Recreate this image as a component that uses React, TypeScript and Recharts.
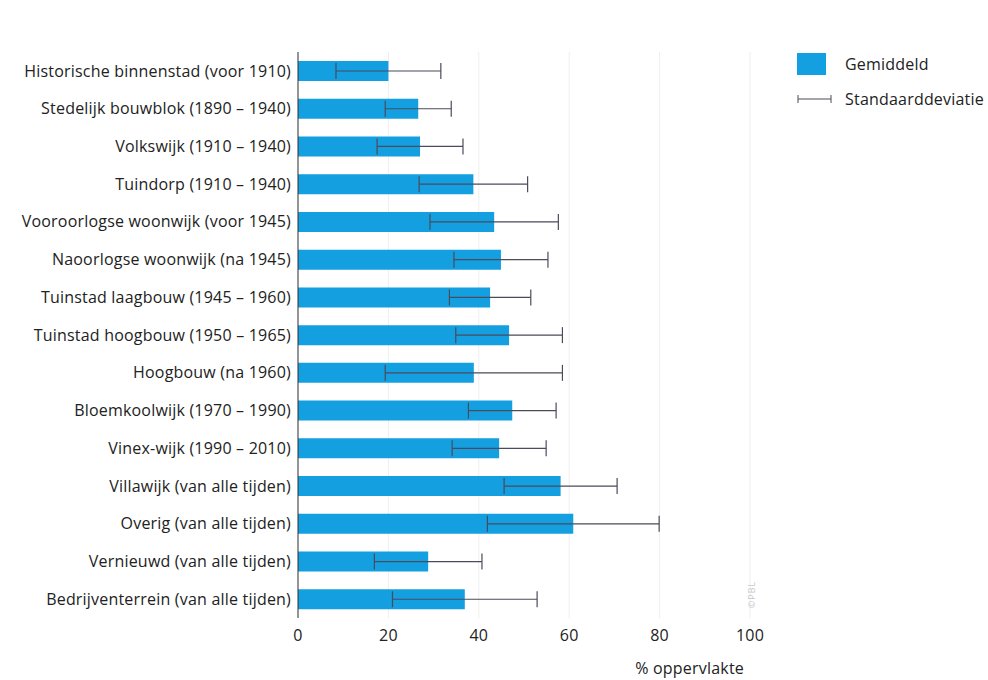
import React from 'react';
import { BarChart, Bar, XAxis, YAxis, CartesianGrid, ErrorBar, Label } from 'recharts';

// categories (top to bottom)
const wijktypen = [
  'Historische binnenstad (voor 1910)',
  'Stedelijk bouwblok (1890 – 1940)',
  'Volkswijk (1910 – 1940)',
  'Tuindorp (1910 – 1940)',
  'Vooroorlogse woonwijk (voor 1945)',
  'Naoorlogse woonwijk (na 1945)',
  'Tuinstad laagbouw (1945 – 1960)',
  'Tuinstad hoogbouw (1950 – 1965)',
  'Hoogbouw (na 1960)',
  'Bloemkoolwijk (1970 – 1990)',
  'Vinex-wijk (1990 – 2010)',
  'Villawijk (van alle tijden)',
  'Overig (van alle tijden)',
  'Vernieuwd (van alle tijden)',
  'Bedrijventerrein (van alle tijden)',
];

// % oppervlakte, gemiddeld
const gemiddeld = [20, 26.6, 27, 38.8, 43.4, 44.9, 42.5, 46.7, 38.9, 47.4, 44.5, 58.1, 60.9, 28.8, 36.9];

// standaarddeviatie
const standaarddeviatie = [11.6, 7.3, 9.5, 12, 14.2, 10.4, 9, 11.8, 19.6, 9.7, 10.4, 12.5, 19, 11.9, 16];

const xTicks = [0, 20, 40, 60, 80, 100];

const BLUE = '#139fe0';
const ERR = '#4b4b5c';
const FONT = '"Open Sans", "Noto Sans", sans-serif';
const TXT = { fontSize: 16, fill: '#222', letterSpacing: 0.2 };

const data = wijktypen.map((name, i) => ({
  name,
  gemiddeld: gemiddeld[i],
  sd: standaarddeviatie[i],
}));

// legend is drawn as a plain overlay so it does not eat plot space
const LegendBox = () => (
  <div style={{ position: 'absolute', left: 797, top: 52, fontFamily: FONT, fontSize: 16, color: '#222', letterSpacing: 0.2 }}>
    <div style={{ display: 'flex', alignItems: 'center', height: 24 }}>
      <div style={{ width: 29, height: 22, background: BLUE, marginRight: 19 }} />
      <span>Gemiddeld</span>
    </div>
    <div style={{ display: 'flex', alignItems: 'center', height: 24, marginTop: 11 }}>
      <svg width={36} height={10} style={{ marginRight: 12 }}>
        <line x1={1} y1={5} x2={34} y2={5} stroke={ERR} strokeWidth={1} />
        <line x1={1} y1={1} x2={1} y2={9} stroke={ERR} strokeWidth={1} />
        <line x1={34} y1={1} x2={34} y2={9} stroke={ERR} strokeWidth={1} />
      </svg>
      <span style={{ whiteSpace: 'nowrap' }}>Standaarddeviatie</span>
    </div>
  </div>
);

export default function App() {
  return (
    <div style={{ position: 'absolute', left: 0, top: 0, width: 988, height: 680, background: '#fff', overflow: 'hidden' }}>
      <BarChart
        width={988}
        height={680}
        data={data}
        layout="vertical"
        margin={{ top: 52, right: 238, left: 0, bottom: 0 }}
        barSize={20}
        style={{ fontFamily: FONT }}
      >
        <CartesianGrid horizontal={false} stroke="#eeeeee" />
        <XAxis
          type="number"
          domain={[0, 100]}
          ticks={xTicks}
          axisLine={false}
          tickLine={false}
          tickMargin={6}
          height={62}
          tick={TXT}
        >
          <Label
            value="% oppervlakte"
            position="insideBottomRight"
            offset={6}
            style={TXT}
          />
        </XAxis>
        <YAxis
          type="category"
          dataKey="name"
          width={298}
          axisLine={{ stroke: '#333', strokeWidth: 1 }}
          tickLine={false}
          tickSize={0}
          tickMargin={7}
          interval={0}
          tick={TXT}
        />
        <Bar dataKey="gemiddeld" name="Gemiddeld" fill={BLUE} isAnimationActive={false}>
          <ErrorBar dataKey="sd" direction="x" width={8} stroke={ERR} strokeWidth={1.2} isAnimationActive={false} />
        </Bar>
      </BarChart>
      <LegendBox />
      <div
        style={{
          position: 'absolute',
          left: 738,
          top: 588,
          transform: 'rotate(-90deg)',
          fontFamily: FONT,
          fontSize: 9,
          color: '#c8c8c8',
          letterSpacing: 1,
        }}
      >
        ©PBL
      </div>
    </div>
  );
}
